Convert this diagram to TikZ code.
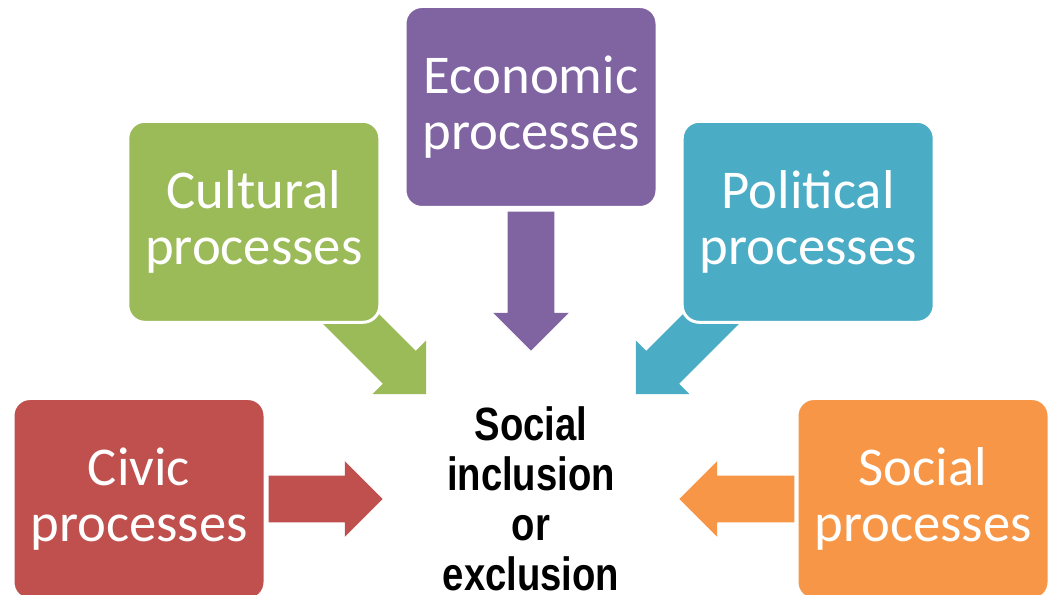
\documentclass[tikz,border=0pt]{standalone}
\usepackage{fontspec}
\setmainfont{Carlito}
\newfontfamily\arialn[FakeStretch=0.82]{Liberation Sans}
\usetikzlibrary{shapes.arrows,calc}

\definecolor{econcol}{HTML}{8064A2}
\definecolor{cultcol}{HTML}{9BBB59}
\definecolor{policol}{HTML}{4BACC6}
\definecolor{civicol}{HTML}{C0504D}
\definecolor{socicol}{HTML}{F79646}
\newlength\unitpx
\setlength\unitpx{0.75pt}

\begin{document}
\begin{tikzpicture}[x=0.75pt,y=0.75pt,
    proc/.style={draw=white,line width=3\unitpx,rounded corners=17\unitpx,
      minimum width=252\unitpx,minimum height=201\unitpx,inner sep=0pt,
      text=white,align=center,font=\fontsize{41pt}{42pt}\selectfont},
    blockarrow/.style={shape=single arrow,draw=none,anchor=tip,inner xsep=0pt,
      inner ysep=23\unitpx,single arrow head extend=14.5\unitpx},
    centre/.style={inner sep=0pt,align=center,
      font=\arialn\bfseries\fontsize{35pt}{37.5pt}\selectfont}]
  \useasboundingbox (0,0) rectangle (1053,595);
  \node[centre] (res) at (531,96) {Social\\inclusion\\or\\exclusion};
  % block arrows pointing into the centre
  \node[blockarrow,fill=econcol,minimum height=139\unitpx,rotate=-90] (econarr) at ($(res)+(90:148\unitpx)$) {};
  \node[blockarrow,fill=cultcol,minimum height=139\unitpx,rotate=-45] (cultarr) at ($(res)+(135:148\unitpx)$) {};
  \node[blockarrow,fill=policol,minimum height=139\unitpx,rotate=-135] (poliarr) at ($(res)+(45:148\unitpx)$) {};
  \node[blockarrow,fill=civicol,minimum height=114\unitpx] (civiarr) at ($(res)+(180:148\unitpx)$) {};
  \node[blockarrow,fill=socicol,minimum height=115\unitpx,rotate=180] (sociarr) at ($(res)+(0:148\unitpx)$) {};
  % process boxes
  \node[proc,fill=econcol] (econ) at ($(res)+(90:392\unitpx)$) {Economic\\processes};
  \node[proc,fill=cultcol] (cult) at ($(res)+(135:392\unitpx)$) {Cultural\\processes};
  \node[proc,fill=policol] (poli) at ($(res)+(45:392\unitpx)$) {Political\\processes};
  \node[proc,fill=civicol] (civi) at ($(res)+(180:392\unitpx)$) {Civic\\processes};
  \node[proc,fill=socicol] (soci) at ($(res)+(0:392\unitpx)$) {Social\\processes};
\end{tikzpicture}
\end{document}
